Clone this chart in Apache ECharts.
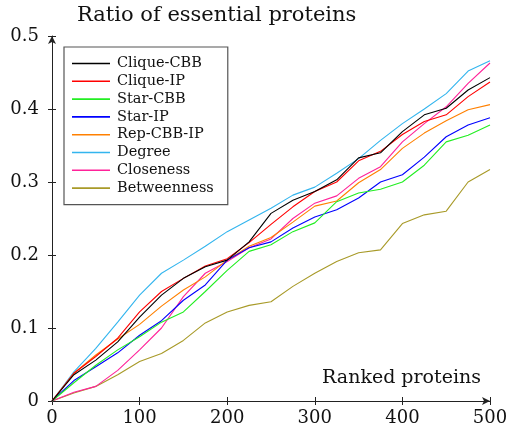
<!DOCTYPE html>
<html>
<head>
<meta charset="utf-8">
<script src="https://cdn.jsdelivr.net/npm/echarts@6/dist/echarts.min.js"></script>
<style>
html,body{margin:0;padding:0;background:#fff;}
#c{width:508px;height:434px;}
</style>
</head>
<body>
<div id="c"></div>
<script>
var xs = [0,25,50,75,100,125,150,175,200,225,250,275,300,325,350,375,400,425,450,475,500];
var cliqueCBB   = [0,0.036,0.056,0.081,0.115,0.145,0.168,0.184,0.193,0.218,0.257,0.275,0.287,0.303,0.333,0.340,0.369,0.392,0.401,0.426,0.443];
var cliqueIP    = [0,0.038,0.061,0.086,0.122,0.150,0.168,0.185,0.195,0.217,0.242,0.266,0.287,0.300,0.329,0.342,0.365,0.383,0.392,0.417,0.437];
var starCBB     = [0,0.025,0.049,0.070,0.088,0.108,0.122,0.150,0.179,0.205,0.214,0.232,0.244,0.273,0.285,0.290,0.300,0.323,0.355,0.364,0.378];
var starIP      = [0,0.028,0.047,0.066,0.090,0.110,0.138,0.159,0.193,0.210,0.218,0.237,0.252,0.262,0.278,0.300,0.310,0.334,0.362,0.378,0.388];
var repCBBIP    = [0,0.038,0.063,0.085,0.105,0.130,0.152,0.170,0.193,0.212,0.224,0.245,0.267,0.274,0.299,0.317,0.346,0.367,0.384,0.399,0.406];
var degree      = [0,0.040,0.072,0.108,0.145,0.175,0.193,0.212,0.232,0.248,0.264,0.282,0.293,0.312,0.332,0.357,0.380,0.400,0.421,0.452,0.466];
var closeness   = [0,0.012,0.020,0.042,0.070,0.100,0.143,0.175,0.191,0.210,0.222,0.250,0.271,0.281,0.305,0.321,0.355,0.380,0.403,0.435,0.463];
var betweenness = [0,0.011,0.020,0.036,0.054,0.065,0.083,0.107,0.122,0.131,0.136,0.157,0.175,0.191,0.203,0.207,0.243,0.255,0.260,0.300,0.317];

var seriesNames = ['Clique-CBB','Clique-IP','Star-CBB','Star-IP','Rep-CBB-IP','Degree','Closeness','Betweenness'];
var seriesValues = [cliqueCBB,cliqueIP,starCBB,starIP,repCBBIP,degree,closeness,betweenness];
var seriesColors = ['#000000','#ff0000','#22ee22','#0000ff','#ff8000','#33b5ee','#ff2299','#a89a28'];
var xTicks = [0,100,200,300,400,500];
var yTicks = [0,0.1,0.2,0.3,0.4,0.5];

var FONT = 'DejaVu Serif';
var chart = echarts.init(document.getElementById('c'), null, {renderer:'canvas'});

var series = seriesNames.map(function(n,i){
  return {
    name:n, type:'line', xAxisIndex:0, yAxisIndex:0,
    data: xs.map(function(x,j){return [x, seriesValues[i][j]];}),
    showSymbol:false, symbol:'none',
    lineStyle:{color:seriesColors[i], width:1.1},
    itemStyle:{color:seriesColors[i]},
    animation:false, z: 10 - i
  };
});

chart.setOption({
  animation:false,
  backgroundColor:'#ffffff',
  grid:{left:52,right:18,top:36,bottom:33,containLabel:false,outerBoundsMode:'none'},
  legend:{
    orient:'vertical', left:64, top:47,
    data:seriesNames,
    icon:'rect', itemWidth:38, itemHeight:1.6, itemGap:2.8,
    padding:[9,14,9,8],
    backgroundColor:'#ffffff',
    borderColor:'#555555', borderWidth:1.2, borderRadius:0,
    textStyle:{fontFamily:FONT,fontSize:14.5,color:'#111',lineHeight:14,padding:[0,0,0,2]},
    selectedMode:false
  },
  xAxis:[{
    type:'value', min:0, max:500, interval:100, position:'bottom',
    axisLine:{show:true,onZero:false,symbol:['none','arrow'],symbolSize:[6,8],lineStyle:{color:'#222',width:1}},
    axisTick:{show:true,inside:false,length:4,lineStyle:{color:'#222'}},
    axisLabel:{fontFamily:FONT,fontSize:18,color:'#111',margin:8},
    splitLine:{show:false}
  },{
    type:'value', min:0, max:500, interval:100, position:'bottom',
    axisLine:{show:false},
    axisTick:{show:true,inside:true,length:4,lineStyle:{color:'#222'}},
    axisLabel:{show:false}, splitLine:{show:false}
  }],
  yAxis:[{
    type:'value', min:0, max:0.5, interval:0.1, position:'left',
    axisLine:{show:true,onZero:false,symbol:['none','arrow'],symbolSize:[6,8],lineStyle:{color:'#222',width:1}},
    axisTick:{show:true,inside:false,length:4,lineStyle:{color:'#222'}},
    axisLabel:{fontFamily:FONT,fontSize:18,color:'#111',margin:13},
    splitLine:{show:false}
  },{
    type:'value', min:0, max:0.5, interval:0.1, position:'left',
    axisLine:{show:false},
    axisTick:{show:true,inside:true,length:4,lineStyle:{color:'#222'}},
    axisLabel:{show:false}, splitLine:{show:false}
  }],
  graphic:[
    {type:'text', left:77, top:5, style:{text:'Ratio of essential proteins', font:'21px "DejaVu Serif"', fill:'#111'}},
    {type:'text', right:27, top:369, style:{text:'Ranked proteins', font:'19px "DejaVu Serif"', fill:'#111'}}
  ],
  series:series
});
</script>
</body>
</html>
